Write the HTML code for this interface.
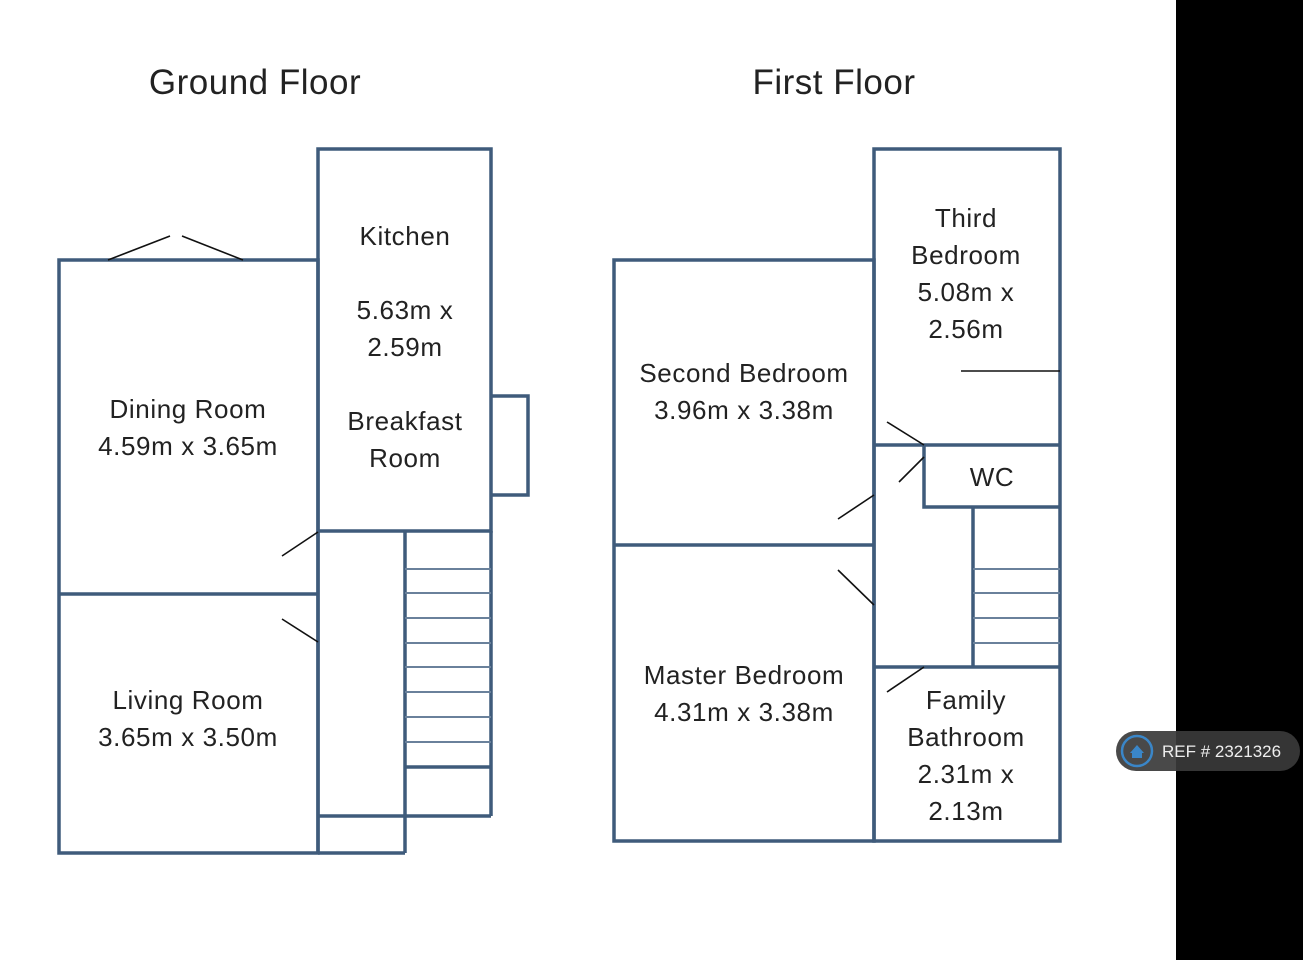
<!DOCTYPE html>
<html><head><style>
html,body{margin:0;padding:0;background:#000;}
svg{display:block}
text{font-family:"Liberation Sans",sans-serif;fill:#222;}
</style></head><body>
<svg width="1303" height="960" viewBox="0 0 1303 960" xmlns="http://www.w3.org/2000/svg">
<rect x="0" y="0" width="1176" height="960" fill="#fff"/>
<rect x="1176" y="0" width="127" height="960" fill="#000"/>
<text x="255" y="94" font-size="35" text-anchor="middle" letter-spacing="0.5">Ground Floor</text>
<text x="834" y="94" font-size="35" text-anchor="middle" letter-spacing="0.5">First Floor</text>
<g stroke="#3f5b7b" stroke-width="3.5" fill="none">
<rect x="59" y="260" width="259" height="593"/>
<line x1="59" y1="594" x2="318" y2="594"/>
<rect x="318" y="149" width="173" height="382"/>
<polyline points="491,396 528,396 528,495 491,495"/>
<line x1="318" y1="531" x2="318" y2="853"/>
<line x1="405" y1="531" x2="405" y2="853"/>
<line x1="491" y1="531" x2="491" y2="816"/>
<line x1="318" y1="816" x2="491" y2="816"/>
<line x1="318" y1="853" x2="405" y2="853"/>
<line x1="405" y1="767" x2="491" y2="767"/>
<rect x="614" y="260" width="260" height="581"/>
<line x1="614" y1="545" x2="874" y2="545"/>
<rect x="874" y="149" width="186" height="692"/>
<line x1="874" y1="445" x2="1060" y2="445"/>
<polyline points="924,445 924,507 1060,507"/>
<line x1="973" y1="507" x2="973" y2="667"/>
<line x1="874" y1="667" x2="1060" y2="667"/>
</g>
<g stroke="#6a819b" stroke-width="2">
<line x1="405" y1="569" x2="491" y2="569"/>
<line x1="405" y1="593" x2="491" y2="593"/>
<line x1="405" y1="618" x2="491" y2="618"/>
<line x1="405" y1="643" x2="491" y2="643"/>
<line x1="405" y1="667" x2="491" y2="667"/>
<line x1="405" y1="692" x2="491" y2="692"/>
<line x1="405" y1="717" x2="491" y2="717"/>
<line x1="405" y1="742" x2="491" y2="742"/>
<line x1="973" y1="569" x2="1060" y2="569"/>
<line x1="973" y1="593" x2="1060" y2="593"/>
<line x1="973" y1="618" x2="1060" y2="618"/>
<line x1="973" y1="643" x2="1060" y2="643"/>
</g>
<g stroke="#111" stroke-width="1.6">
<line x1="108" y1="260" x2="170" y2="236"/>
<line x1="182" y1="236" x2="243" y2="260"/>
<line x1="282" y1="556" x2="318" y2="532"/>
<line x1="282" y1="619" x2="318" y2="642"/>
<line x1="961" y1="371" x2="1060" y2="371"/>
<line x1="887" y1="422" x2="924" y2="445"/>
<line x1="899" y1="482" x2="924" y2="457"/>
<line x1="838" y1="519" x2="874" y2="495"/>
<line x1="838" y1="570" x2="874" y2="605"/>
<line x1="887" y1="692" x2="924" y2="667"/>
</g>
<g font-size="26" text-anchor="middle" letter-spacing="0.6">
<text x="405" y="245">Kitchen</text>
<text x="405" y="319">5.63m x</text>
<text x="405" y="356">2.59m</text>
<text x="405" y="430">Breakfast</text>
<text x="405" y="467">Room</text>
<text x="188" y="418">Dining Room</text>
<text x="188" y="455">4.59m x 3.65m</text>
<text x="188" y="709">Living Room</text>
<text x="188" y="746">3.65m x 3.50m</text>
<text x="966" y="227">Third</text>
<text x="966" y="264">Bedroom</text>
<text x="966" y="301">5.08m x</text>
<text x="966" y="338">2.56m</text>
<text x="744" y="382">Second Bedroom</text>
<text x="744" y="419">3.96m x 3.38m</text>
<text x="992" y="486">WC</text>
<text x="744" y="684">Master Bedroom</text>
<text x="744" y="721">4.31m x 3.38m</text>
<text x="966" y="709">Family</text>
<text x="966" y="746">Bathroom</text>
<text x="966" y="783">2.31m x</text>
<text x="966" y="820">2.13m</text>
</g>
<rect x="1116" y="731" width="184" height="40" rx="20" fill="#3a3a3a" opacity="0.92"/>
<circle cx="1137" cy="751" r="15" fill="none" stroke="#3a86c8" stroke-width="2.5"/>
<path d="M1130 753 L1137 745 L1144 753 L1142 753 L1142 758 L1132 758 L1132 753 Z" fill="#3a86c8"/>
<text x="1162" y="757" font-size="17" style="fill:#eee">REF # 2321326</text>
</svg>
</body></html>
